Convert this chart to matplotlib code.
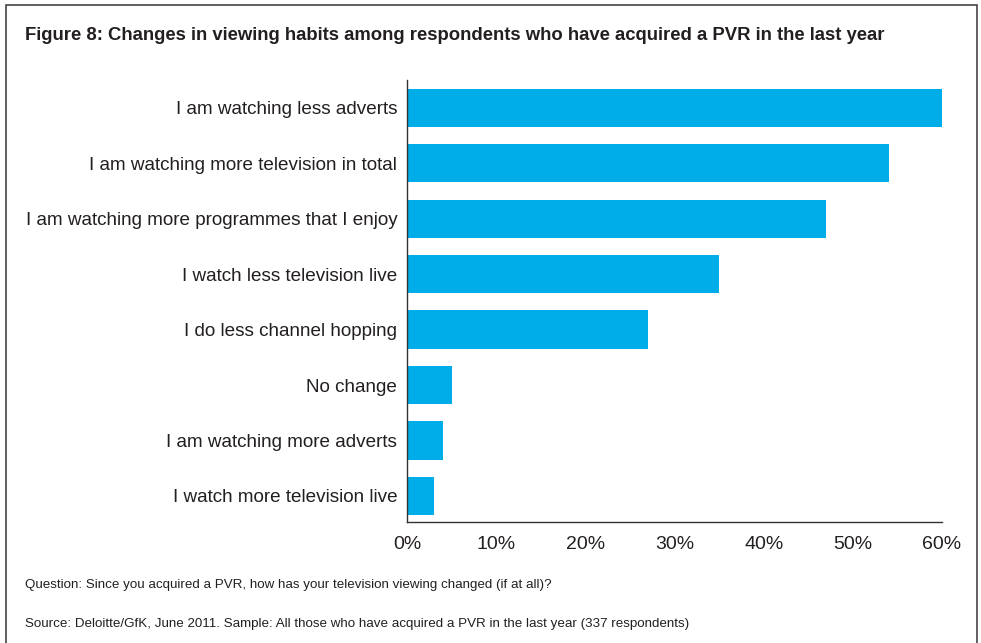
import numpy as np
import matplotlib.pyplot as plt
from matplotlib.patches import Rectangle
from matplotlib.ticker import FuncFormatter

plt.rcParams['font.family'] = ['Liberation Sans', 'DejaVu Sans']

# survey responses (share of respondents, %)
labels = [
    "I am watching less adverts",
    "I am watching more television in total",
    "I am watching more programmes that I enjoy",
    "I watch less television live",
    "I do less channel hopping",
    "No change",
    "I am watching more adverts",
    "I watch more television live",
]
shares = [60, 54, 47, 35, 27, 5, 4, 3]
xticks = [0, 10, 20, 30, 40, 50, 60]

bar_color = '#00ADE8'
text_color = '#231F20'

fig = plt.figure(figsize=(9.81, 6.43), dpi=100)
ax = fig.add_axes([0.4149, 0.1882, 0.5454, 0.6874])

y = np.arange(len(labels))
ax.barh(y, shares, height=0.69, color=bar_color)

ax.set_ylim(len(labels) - 0.53, -0.5)
ax.set_xlim(0, 60)
ax.set_yticks(y)
ax.set_yticklabels(labels, fontsize=13.6, color=text_color)
ax.set_xticks(xticks)
ax.xaxis.set_major_formatter(FuncFormatter(lambda v, _: f"{v:.0f}%"))
ax.tick_params(axis='x', labelsize=14, colors=text_color, length=0, pad=10)
ax.tick_params(axis='y', length=0, pad=7)

for side in ('top', 'right'):
    ax.spines[side].set_visible(False)
for side in ('left', 'bottom'):
    ax.spines[side].set_color('#333333')
    ax.spines[side].set_linewidth(1.0)

# outer frame round the figure
fig.patches.append(Rectangle((6 / 981, -0.05), 971 / 981, 1.05 - 5 / 643,
                             transform=fig.transFigure, fill=False,
                             edgecolor='#444444', linewidth=1.2))

fig.text(25 / 981, 1 - 35 / 643,
         "Figure 8: Changes in viewing habits among respondents who have acquired a PVR in the last year",
         fontsize=13.35, fontweight='bold', color=text_color, va='center', ha='left')
fig.text(25 / 981, 1 - 585 / 643,
         "Question: Since you acquired a PVR, how has your television viewing changed (if at all)?",
         fontsize=9.6, color=text_color, va='center', ha='left')
fig.text(25 / 981, 1 - 624 / 643,
         "Source: Deloitte/GfK, June 2011. Sample: All those who have acquired a PVR in the last year (337 respondents)",
         fontsize=9.68, color=text_color, va='center', ha='left')

fig.savefig('out.png', dpi=100)
